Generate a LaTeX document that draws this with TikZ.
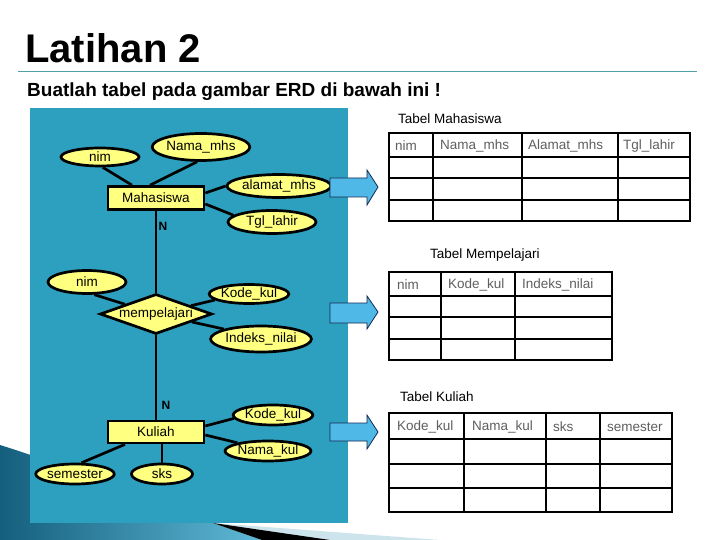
\documentclass[tikz,border=0pt]{standalone}
\usepackage{fontspec}
\setmainfont{Liberation Sans}
\usetikzlibrary{shapes.geometric,calc}
\definecolor{panel}{RGB}{44,160,190}
\definecolor{attr}{RGB}{255,255,128}
\definecolor{arrowblue}{RGB}{80,184,230}
\definecolor{arrowline}{RGB}{20,40,80}
\definecolor{rulecol}{RGB}{80,160,170}
\definecolor{hdrgray}{RGB}{95,95,95}
\definecolor{decodark}{RGB}{20,95,125}
\definecolor{decolight}{RGB}{95,185,215}
\definecolor{decopale}{RGB}{205,228,236}
\begin{document}
\begin{tikzpicture}[x=1pt,y=-1pt,
  erdfont/.style={font=\fontsize{13.5}{15}\selectfont},
  attrib/.style={ellipse, draw, line width=2.7pt, fill=attr, inner sep=0pt, erdfont},
  entity/.style={rectangle, draw, line width=2.7pt, fill=attr, inner sep=0pt, erdfont},
  relship/.style={diamond, draw, line width=2.7pt, fill=attr, inner sep=0pt, erdfont},
  link/.style={line width=2.7pt},
  card/.style={font=\fontsize{12}{14}\selectfont\bfseries, inner sep=0pt},
  tbl/.style={line width=1.6pt},
  hdr/.style={anchor=west, inner sep=0pt, text=hdrgray, font=\fontsize{13.5}{15}\selectfont},
  tbltitle/.style={anchor=west, inner sep=0pt, font=\fontsize{13.5}{15}\selectfont},
  blockarrow/.style={fill=arrowblue, draw=arrowline, line width=0.8pt, line join=miter}
]
\useasboundingbox (0,0) rectangle (720,540);
\fill[white] (0,0) rectangle (720,540);

% bottom decoration
\fill[decopale] (213,523) -- (440,540) -- (300,540) -- cycle;
\shade[left color=decodark, right color=decolight]
  (0,445) .. controls (80,470) and (160,505) .. (213,523) -- (262,540) -- (0,540) -- cycle;
\fill[black] (213,523) -- (330,540) -- (262,540) -- cycle;

% title
\node[anchor=base west, inner sep=0pt, font=\fontsize{40}{44}\selectfont\bfseries] (title) at (25,63) {Latihan 2};
\draw[rulecol, line width=1pt] (18,72) -- (697,72);
\node[anchor=base west, inner sep=0pt, font=\fontsize{19}{22}\selectfont\bfseries] (sub) at (27,97) {Buatlah tabel pada gambar ERD di bawah ini !};

% panel
\fill[panel] (30,108) rectangle (348,523);

% ERD nodes
\node[attrib, minimum width=78pt, minimum height=18pt] (nim1) at (100,157) {nim};
\node[attrib, minimum width=90pt, minimum height=27pt] (nama) at (201,147) {Nama\_mhs};
\node[entity, minimum width=96pt, minimum height=23pt] (mhs) at (156,198) {Mahasiswa};
\node[attrib, minimum width=90pt, minimum height=23pt] (alamat) at (279,186) {alamat\_mhs};
\node[attrib, minimum width=88pt, minimum height=23pt] (tgl) at (272,222) {Tgl\_lahir};
\node[card] (n1) at (163,226) {N};

\node[attrib, minimum width=78pt, minimum height=23pt] (nim2) at (87,282) {nim};
\node[relship, minimum width=112pt, minimum height=40pt, aspect=2.8] (mp) at (156,314) {mempelajari};
\node[attrib, minimum width=77pt, minimum height=19pt] (kode1) at (249,294) {Kode\_kul};
\node[attrib, minimum width=90pt, minimum height=26pt] (indeks) at (261,339) {Indeks\_nilai};

\node[card] (n2) at (166,405) {N};
\node[entity, minimum width=96pt, minimum height=22pt] (kul) at (156,432) {Kuliah};
\node[attrib, minimum width=78pt, minimum height=20pt] (kode2) at (273,415) {Kode\_kul};
\node[attrib, minimum width=78pt, minimum height=20pt] (namakul) at (268,451) {Nama\_kul};
\node[attrib, minimum width=78pt, minimum height=20pt] (semester) at (75,474) {semester};
\node[attrib, minimum width=61pt, minimum height=20pt] (sks) at (162,474) {sks};

% ERD connectors
\draw[link] (nim1.-75) -- ($(mhs.north)+(-24,0)$);
\draw[link] (nama.-105) -- ($(mhs.north)+(-6,0)$);
\draw[link] ($(mhs.east)+(0,-5)$) -- (alamat.west);
\draw[link] ($(mhs.east)+(0,6)$) -- (tgl.170);
\draw[link] (mhs.south) -- (mp.north);
\draw[link] (nim2.-60) -- (mp);
\draw[link] (kode1.190) -- (mp);
\draw[link] (indeks.165) -- (mp);
\draw[link] (mp.south) -- (kul.north);
\draw[link] ($(kul.east)+(0,-6)$) -- (kode2.185);
\draw[link] ($(kul.east)+(0,3)$) -- (namakul.165);
\draw[link] ($(kul.south)+(-31,0)$) -- (semester.60);
\draw[link] (kul.south -| sks.north) -- (sks.north);

% block arrows
\draw[blockarrow] (330,178) -- (367,178) -- (367,170) -- (378,187) -- (367,205) -- (367,197) -- (330,197) -- cycle;
\draw[blockarrow] (330,303) -- (367,303) -- (367,296) -- (378,312) -- (367,329) -- (367,323) -- (330,323) -- cycle;
\draw[blockarrow] (330,423) -- (367,423) -- (367,415) -- (378,432) -- (367,449) -- (367,441) -- (330,441) -- cycle;

% Tabel Mahasiswa
\node[tbltitle] (t1) at (398,119) {Tabel Mahasiswa};
\draw[tbl] (389,133) rectangle (690,221);
\foreach \x in {433,522,618} \draw[tbl] (\x,133) -- (\x,221);
\foreach \y in {157,178,200} \draw[tbl] (389,\y) -- (690,\y);
\node[hdr] (h11) at (395,146) {nim};
\node[hdr] (h12) at (440,146) {Nama\_mhs};
\node[hdr] (h13) at (528,146) {Alamat\_mhs};
\node[hdr] (h14) at (623,146) {Tgl\_lahir};

% Tabel Mempelajari
\node[tbltitle] (t2) at (430,255) {Tabel Mempelajari};
\draw[tbl] (389,272) rectangle (612,360);
\foreach \x in {441,515} \draw[tbl] (\x,272) -- (\x,360);
\foreach \y in {296,317,339} \draw[tbl] (389,\y) -- (612,\y);
\node[hdr] (h21) at (397,285) {nim};
\node[hdr] (h22) at (448,285) {Kode\_kul};
\node[hdr] (h23) at (522,285) {Indeks\_nilai};

% Tabel Kuliah
\node[tbltitle] (t3) at (400,397) {Tabel Kuliah};
\draw[tbl] (389,413) rectangle (672,512);
\foreach \x in {464,546,600} \draw[tbl] (\x,413) -- (\x,512);
\foreach \y in {439,464,488} \draw[tbl] (389,\y) -- (672,\y);
\node[hdr] (h31) at (397,427) {Kode\_kul};
\node[hdr] (h32) at (472,427) {Nama\_kul};
\node[hdr] (h33) at (553,427) {sks};
\node[hdr] (h34) at (607,427) {semester};
\end{tikzpicture}
\end{document}
